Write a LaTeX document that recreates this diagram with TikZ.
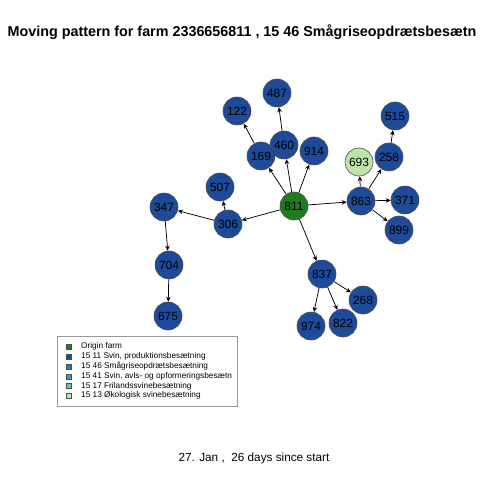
\documentclass[tikz,border=0pt]{standalone}
\usepackage{fontspec}
\setmainfont{Liberation Sans}
\usetikzlibrary{arrows.meta}
\definecolor{cOrigin}{HTML}{1E7B1E}
\definecolor{cProd}{HTML}{1D4B99}
\definecolor{cSmaa}{HTML}{2A7AB8}
\definecolor{cAvl}{HTML}{3AA1B8}
\definecolor{cFri}{HTML}{6CC3B0}
\definecolor{cOko}{HTML}{BDE5A8}
\begin{document}
\begin{tikzpicture}[x=1bp,y=-1bp,
  farm/.style={circle,draw=black!70,line width=0.6pt,minimum size=28bp,inner sep=0pt,
    font=\fontsize{12}{14}\selectfont},
  prodfarm/.style={farm,fill=cProd},
  origfarm/.style={farm,fill=cOrigin},
  okofarm/.style={farm,fill=cOko},
  mv/.style={-{Stealth[length=5bp,width=4.5bp]},line width=0.75pt,black},
  legsq/.style={draw=black!70,line width=0.4pt,minimum size=5bp,inner sep=0pt},
  legtxt/.style={anchor=west,inner sep=0pt,font=\fontsize{8.3}{9}\selectfont}
]
\useasboundingbox (0,0) rectangle (480,480);
\node[font=\bfseries\fontsize{14.4}{17}\selectfont] (title) at (242,32) {Moving pattern for farm 2336656811 , 15 46 Smågriseopdrætsbesætn};
\node[font=\fontsize{11.8}{14}\selectfont] (sub) at (254,458) {27. Jan ,\ \ 26 days since start};

\node[origfarm] (n811) at (294,206) {811};
\node[prodfarm] (n487) at (277,93) {487};
\node[prodfarm] (n122) at (237,111) {122};
\node[prodfarm] (n460) at (284,145) {460};
\node[prodfarm] (n169) at (261,156) {169};
\node[prodfarm] (n914) at (314,151) {914};
\node[prodfarm] (n507) at (220,187) {507};
\node[prodfarm] (n347) at (164,207) {347};
\node[prodfarm] (n306) at (228,224) {306};
\node[prodfarm] (n704) at (169,265) {704};
\node[prodfarm] (n675) at (168,316) {675};
\node[prodfarm] (n515) at (395,116) {515};
\node[okofarm] (n693) at (359,162) {693};
\node[prodfarm] (n258) at (389,157) {258};
\node[prodfarm] (n863) at (361,201) {863};
\node[prodfarm] (n371) at (405,200) {371};
\node[prodfarm] (n899) at (399,230) {899};
\node[prodfarm] (n837) at (322,274) {837};
\node[prodfarm] (n268) at (363,300) {268};
\node[prodfarm] (n974) at (311,326) {974};
\node[prodfarm] (n822) at (343,323) {822};

\draw[mv] (n811) -- (n169);
\draw[mv] (n811) -- (n460);
\draw[mv] (n811) -- (n914);
\draw[mv] (n811) -- (n306);
\draw[mv] (n811) -- (n863);
\draw[mv] (n811) -- (n837);
\draw[mv] (n169) -- (n122);
\draw[mv] (n460) -- (n487);
\draw[mv] (n306) -- (n507);
\draw[mv] (n306) -- (n347);
\draw[mv] (n347) -- (n704);
\draw[mv] (n704) -- (n675);
\draw[mv] (n863) -- (n693);
\draw[mv] (n863) -- (n258);
\draw[mv] (n258) -- (n515);
\draw[mv] (n863) -- (n371);
\draw[mv] (n863) -- (n899);
\draw[mv] (n837) -- (n974);
\draw[mv] (n837) -- (n822);
\draw[mv] (n837) -- (n268);

\node[draw=black!40,line width=0.5pt,minimum width=180bp,minimum height=70bp,inner sep=0pt,anchor=north west] (legend) at (57,336) {};
\foreach \c/\t [count=\i] in {cOrigin/Origin farm,cProd/{15 11 Svin, produktionsbesætning},cSmaa/15 46 Smågriseopdrætsbesætning,cAvl/{15 41 Svin, avls- og opformeringsbesætn},cFri/15 17 Frilandssvinebesætning,cOko/15 13 Økologisk svinebesætning}{
  \node[legsq,fill=\c] (sq\i) at (69,337+9.8*\i) {};
  \node[legtxt] (lt\i) at (81,337+9.8*\i) {\t};
}
\end{tikzpicture}
\end{document}
